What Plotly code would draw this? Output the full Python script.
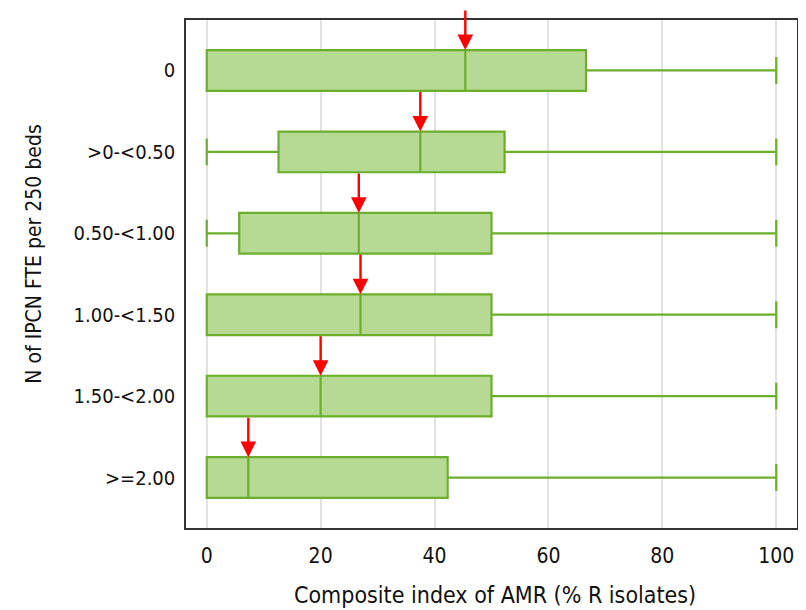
import plotly.graph_objects as go

categories = ["0", ">0-<0.50", "0.50-<1.00", "1.00-<1.50", "1.50-<2.00", ">=2.00"]
lower = [0, 0, 0, 0, 0, 0]
q1 = [0, 12.6, 5.7, 0, 0, 0]
median = [45.4, 37.5, 26.7, 27.0, 20.0, 7.3]
q3 = [66.6, 52.3, 50.0, 50.0, 50.0, 42.3]
upper = [100, 100, 100, 100, 100, 100]
x_ticks = [0, 20, 40, 60, 80, 100]
x_title = "Composite index of AMR (% R isolates)"
y_title = "N of IPCN FTE per 250 beds"

GREEN_LINE = "#6dae2c"
GREEN_FILL = "#b6d993"
FONT = "DejaVu Sans Condensed, Liberation Sans, sans-serif"

fig = go.Figure()
fig.add_trace(go.Box(
    y=categories,
    q1=q1, median=median, q3=q3,
    lowerfence=lower, upperfence=upper,
    orientation="h",
    width=0.5,
    whiskerwidth=0.66,
    fillcolor=GREEN_FILL,
    line=dict(color=GREEN_LINE, width=2.2),
    boxpoints=False,
    hoverinfo="skip",
    showlegend=False,
))

for i, m in enumerate(median):
    fig.add_annotation(
        x=m, y=i - 0.25, xref="x", yref="y",
        text="", showarrow=True,
        ax=0, ay=-41, axref="pixel", ayref="pixel",
        arrowhead=2, arrowsize=1.3, arrowwidth=2.4,
        arrowcolor="#ff0000", standoff=0,
    )

fig.add_annotation(
    text=x_title, xref="paper", yref="paper", x=0.506, y=-0.132,
    xanchor="center", yanchor="middle", showarrow=False,
    font=dict(size=23),
)
fig.add_annotation(
    text=y_title, xref="paper", yref="paper", x=-0.2488, y=0.540,
    xanchor="center", yanchor="middle", showarrow=False, textangle=-90,
    font=dict(size=21),
)

fig.update_layout(
    width=798, height=602,
    margin=dict(l=178, r=7, t=12, b=82),
    plot_bgcolor="white", paper_bgcolor="white",
    font=dict(family=FONT, size=21, color="#111111"),
    xaxis=dict(
        range=[-3.64, 103.64],
        tickvals=x_ticks, ticktext=[str(v) for v in x_ticks],
        showgrid=True, gridcolor="#e2e2e2", gridwidth=2,
        zeroline=False,
        showline=True, linecolor="#333333", linewidth=1.5, mirror=True,
        ticks="outside", ticklen=8, tickcolor="rgba(0,0,0,0)",
        tickfont=dict(size=21),
    ),
    yaxis=dict(
        type="category",
        categoryorder="array", categoryarray=categories,
        range=[5.62, -0.62],
        showgrid=False, zeroline=False,
        showline=True, linecolor="#333333", linewidth=1.5, mirror=True,
        ticks="outside", ticklen=5, tickcolor="rgba(0,0,0,0)",
        tickfont=dict(size=20),
    ),
)

fig.write_html("out.html")
